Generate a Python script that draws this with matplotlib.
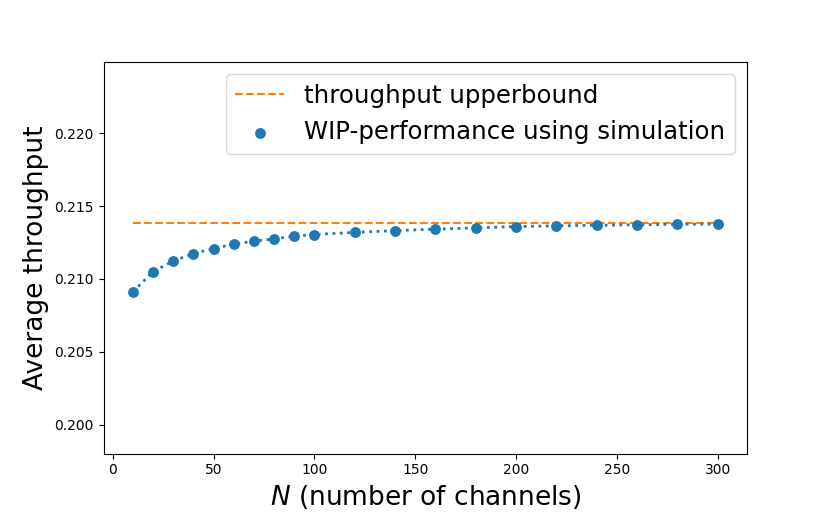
import matplotlib
matplotlib.use("Agg")
import matplotlib.pyplot as plt

N = [10, 20, 30, 40, 50, 60, 70, 80, 90, 100, 120, 140, 160, 180, 200, 220, 240, 260, 280, 300]
throughput = [0.20913, 0.2105, 0.21124, 0.21174, 0.21209, 0.21239, 0.2126, 0.21275, 0.21294, 0.21305,
              0.2132, 0.21332, 0.21342, 0.21351, 0.2136, 0.21365, 0.21369, 0.21372, 0.21376, 0.21377]
upper_x = [10, 300]
upper_y = [0.21387, 0.21387]

fig = plt.figure(figsize=(8.3, 5.19), dpi=100)
ax = fig.add_axes([103.7/830, 1-453.7/519, (747-103.7)/830, (453.7-62)/519])

ax.plot(upper_x, upper_y, '--', color='C1', label='throughput upperbound')
ax.plot(N, throughput, ':', color='C0', linewidth=2)
ax.scatter(N, throughput, color='C0', s=46, zorder=3, label='WIP-performance using simulation')

ax.set_ylim(0.198, 0.2249)
ax.set_yticks([0.200, 0.205, 0.210, 0.215, 0.220])
ax.set_xlabel('$N$ (number of channels)', fontsize=19)
ax.set_ylabel('Average throughput', fontsize=19)
ax.legend(loc='upper right', fontsize=17.6)

fig.savefig('out.png', dpi=100)
